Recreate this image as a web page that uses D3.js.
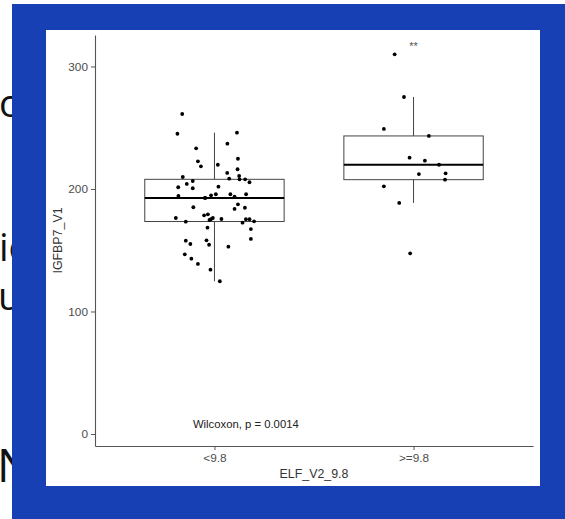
<!DOCTYPE html>
<html>
<head>
<meta charset="utf-8">
<script src="https://cdn.jsdelivr.net/npm/d3@7"></script>
<style>
  html, body { margin: 0; padding: 0; background: #fff; }
  svg { display: block; }
</style>
</head>
<body>
<svg id="chart" width="565" height="519"></svg>
<script>
// ── Data ─────────────────────────────────────────────
const groups = ['<9.8', '>=9.8'];

// IGFBP7_V1 values per group, with the horizontal jitter (in category units)
const lowValues = [
  261.2, 245.1, 246.0, 237.0, 233.2, 222.6, 218.5, 219.8, 224.7, 216.1,
  213.1, 209.8, 208.4, 210.6, 207.9, 207.9, 205.5, 206.5, 204.1, 201.4,
  200.6, 201.9, 194.3, 192.7, 194.8, 195.7, 195.7, 193.7, 195.7, 185.1,
  187.5, 183.7, 184.7, 176.3, 173.3, 178.5, 179.3, 176.3, 175.3, 174.7,
  175.5, 175.3, 175.3, 173.6, 172.5, 168.4, 167.3, 159.2, 157.8, 155.1,
  158.1, 154.5, 152.9, 146.7, 143.1, 138.8, 134.1, 124.7, 192.7
];
const lowJitter = [
  -0.162, -0.186, 0.113, 0.065, -0.092, -0.083, -0.068, 0.017, 0.118, 0.116,
  0.064, -0.159, 0.074, 0.124, 0.126, 0.154, 0.176, -0.109, -0.139, -0.182,
  -0.109, 0.020, -0.181, -0.047, -0.017, 0.007, 0.080, 0.101, 0.159, -0.106,
  0.118, 0.101, 0.153, -0.194, -0.144, -0.052, -0.033, -0.008, -0.018, -0.025,
  0.035, 0.158, 0.176, 0.199, 0.141, -0.035, 0.183, 0.183, -0.144, -0.121,
  -0.040, -0.027, 0.070, -0.149, -0.116, -0.083, -0.020, 0.027, -0.047
];
const highValues = [
  309.9, 275.1, 249.0, 243.3, 225.6, 223.1, 219.8, 212.2, 212.8, 207.6,
  202.2, 188.6, 147.5
];
const highJitter = [
  -0.095, -0.048, -0.149, 0.077, -0.020, 0.057, 0.128, 0.027, 0.161, 0.158,
  -0.149, -0.072, -0.017
];

const yTicks = [0, 100, 200, 300];
const testLabel = 'Wilcoxon, p = 0.0014';
const signifLabel = '**';

// slide text peeking out behind the frame
const slideLetters = [
  { t: 'o',  y: 117, size: 38, x: -1 },
  { t: 'ic', y: 261, size: 38, x: -1 },
  { t: 'u',  y: 310, size: 38, x: -2 },
  { t: 'N',  y: 482, size: 46, x: -3 }
];

// ── Setup ─────────────────────────────────────────────
const svg = d3.select('#chart');
const font = 'Liberation Sans, Arial, sans-serif';

svg.append('g').selectAll('text')
  .data(slideLetters)
  .join('text')
  .attr('x', d => d.x).attr('y', d => d.y)
  .attr('font-family', 'Open Sans, Noto Sans, sans-serif')
  .attr('font-size', d => d.size)
  .attr('fill', '#111')
  .text(d => d.t);

svg.append('rect')
  .attr('x', 12).attr('y', 4).attr('width', 553).attr('height', 515)
  .attr('fill', '#1740b4');

svg.append('rect')
  .attr('x', 46).attr('y', 30).attr('width', 494).attr('height', 456)
  .attr('fill', '#fff');

const x = d3.scaleLinear().domain([0.4, 2.6]).range([95, 533]);
const y = d3.scaleLinear().domain([-9.8, 325.7]).range([446, 35]);

// ── Boxes ─────────────────────────────────────────────
function boxStats(vals) {
  const s = vals.slice().sort(d3.ascending);
  const q1 = d3.quantile(s, 0.25), med = d3.quantile(s, 0.5), q3 = d3.quantile(s, 0.75);
  const iqr = q3 - q1;
  const lo = d3.min(s.filter(v => v >= q1 - 1.5 * iqr));
  const hi = d3.max(s.filter(v => v <= q3 + 1.5 * iqr));
  return { q1, med, q3, lo, hi };
}

const series = [
  { i: 1, values: lowValues, jitter: lowJitter },
  { i: 2, values: highValues, jitter: highJitter }
];
series.forEach(s => s.stats = boxStats(s.values));

const halfW = 0.35;
const boxes = svg.append('g').selectAll('g')
  .data(series).join('g');

boxes.append('line')
  .attr('x1', d => x(d.i)).attr('x2', d => x(d.i))
  .attr('y1', d => y(d.stats.hi)).attr('y2', d => y(d.stats.q3))
  .attr('stroke', '#444').attr('stroke-width', 1);
boxes.append('line')
  .attr('x1', d => x(d.i)).attr('x2', d => x(d.i))
  .attr('y1', d => y(d.stats.q1)).attr('y2', d => y(d.stats.lo))
  .attr('stroke', '#444').attr('stroke-width', 1);
boxes.append('rect')
  .attr('x', d => x(d.i - halfW)).attr('width', d => x(d.i + halfW) - x(d.i - halfW))
  .attr('y', d => y(d.stats.q3)).attr('height', d => y(d.stats.q1) - y(d.stats.q3))
  .attr('fill', 'none').attr('stroke', '#444').attr('stroke-width', 1);
boxes.append('line')
  .attr('x1', d => x(d.i - halfW)).attr('x2', d => x(d.i + halfW))
  .attr('y1', d => y(d.stats.med)).attr('y2', d => y(d.stats.med))
  .attr('stroke', '#000').attr('stroke-width', 2);

// ── Jittered points ──────────────────────────────────
boxes.selectAll('circle')
  .data(d => d.values.map((v, k) => ({ v, xi: d.i + d.jitter[k] })))
  .join('circle')
  .attr('cx', d => x(d.xi)).attr('cy', d => y(d.v))
  .attr('r', 1.9).attr('fill', '#000');

// ── Axes ─────────────────────────────────────────────
const yAxis = svg.append('g')
  .attr('transform', `translate(${x(0.4)},0)`)
  .call(d3.axisLeft(y).tickValues(yTicks).tickSize(4).tickSizeOuter(0).tickPadding(3));
const xAxis = svg.append('g')
  .attr('transform', `translate(0,${y(-9.8)})`)
  .call(d3.axisBottom(x).tickValues([1, 2]).tickFormat(i => groups[i - 1])
    .tickSize(4).tickSizeOuter(0).tickPadding(4));

[yAxis, xAxis].forEach(a => {
  a.select('.domain').attr('stroke', '#555').attr('stroke-width', 1.1);
  a.selectAll('.tick line').attr('stroke', '#555');
  a.selectAll('.tick text')
    .attr('font-family', font).attr('font-size', 11.8).attr('fill', '#4d4d4d');
});

svg.append('text')
  .attr('transform', `translate(62,${(y.range()[0] + y.range()[1]) / 2}) rotate(-90)`)
  .attr('text-anchor', 'middle')
  .attr('font-family', font).attr('font-size', 12.4).attr('fill', '#333')
  .text('IGFBP7_V1');

svg.append('text')
  .attr('x', (x.range()[0] + x.range()[1]) / 2).attr('y', 478)
  .attr('text-anchor', 'middle')
  .attr('font-family', font).attr('font-size', 12.4).attr('fill', '#333')
  .text('ELF_V2_9.8');

// ── Annotations ──────────────────────────────────────
svg.append('text')
  .attr('x', x(0.892)).attr('y', y(4.9))
  .attr('font-family', font).attr('font-size', 11.3).attr('fill', '#222')
  .text(testLabel);

svg.append('text')
  .attr('x', x(2)).attr('y', y(313.5))
  .attr('text-anchor', 'middle')
  .attr('font-family', font).attr('font-size', 11).attr('fill', '#555')
  .text(signifLabel);
</script>
</body>
</html>
